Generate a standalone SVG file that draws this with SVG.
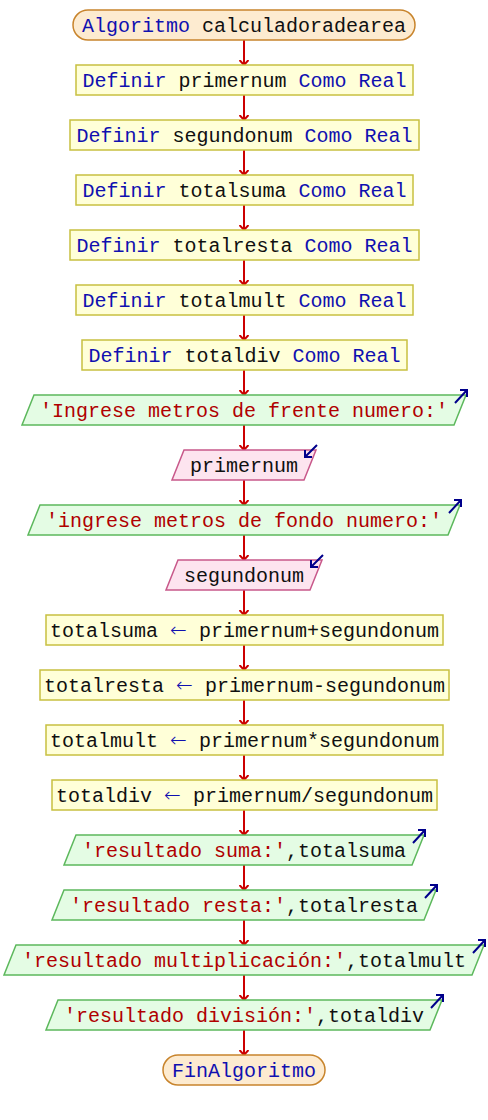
<svg xmlns="http://www.w3.org/2000/svg" width="488" height="1120" viewBox="0 0 488 1120">
<style>
text{font-family:"Liberation Mono","Courier New",monospace;font-size:20px;text-anchor:middle;white-space:pre}
.term{fill:#fdebd0;stroke:#c8842c;stroke-width:1.5}
.proc{fill:#ffffd8;stroke:#c8c040;stroke-width:1.5}
.out{fill:#e4fce4;stroke:#5cb85c;stroke-width:1.5}
.in{fill:#fde4ef;stroke:#c8588a;stroke-width:1.5}
.k{fill:#1010b0}
.a{fill:#1010b0;font-family:"DejaVu Sans",sans-serif;font-weight:300}
.v{fill:#101010}
.s{fill:#b00000}
.ico{fill:none;stroke:#00008b;stroke-width:2}
.con{stroke:#cc0000;stroke-width:2;fill:none;marker-end:url(#ah)}
</style>
<defs>
<marker id="ah" viewBox="0 0 6 10" refX="5.5" refY="5" markerWidth="6" markerHeight="10" orient="auto" markerUnits="userSpaceOnUse">
<path d="M0.5,0.5 L5.5,5 L0.5,9.5" fill="none" stroke="#cc0000" stroke-width="2"/>
</marker>
</defs>
<g id="connectors">
<line class="con" x1="244" y1="40" x2="244" y2="65"/>
<line class="con" x1="244" y1="95" x2="244" y2="120"/>
<line class="con" x1="244" y1="150" x2="244" y2="175"/>
<line class="con" x1="244" y1="205" x2="244" y2="230"/>
<line class="con" x1="244" y1="260" x2="244" y2="285"/>
<line class="con" x1="244" y1="315" x2="244" y2="340"/>
<line class="con" x1="244" y1="370" x2="244" y2="395"/>
<line class="con" x1="244" y1="425" x2="244" y2="450"/>
<line class="con" x1="244" y1="480" x2="244" y2="505"/>
<line class="con" x1="244" y1="535" x2="244" y2="560"/>
<line class="con" x1="244" y1="590" x2="244" y2="615"/>
<line class="con" x1="244" y1="645" x2="244" y2="670"/>
<line class="con" x1="244" y1="700" x2="244" y2="725"/>
<line class="con" x1="244" y1="755" x2="244" y2="780"/>
<line class="con" x1="244" y1="810" x2="244" y2="835"/>
<line class="con" x1="244" y1="865" x2="244" y2="890"/>
<line class="con" x1="244" y1="920" x2="244" y2="945"/>
<line class="con" x1="244" y1="975" x2="244" y2="1000"/>
<line class="con" x1="244" y1="1030" x2="244" y2="1055"/>
</g>
<g id="n0">
<rect class="term" x="73" y="10" width="342" height="30" rx="15"/>
<text x="244" y="32"><tspan class="k">Algoritmo </tspan><tspan class="v">calculadoradearea</tspan></text>
</g>
<g id="n1">
<rect class="proc" x="76" y="65" width="337" height="30"/>
<text x="244.5" y="87"><tspan class="k">Definir </tspan><tspan class="v">primernum</tspan><tspan class="k"> Como Real</tspan></text>
</g>
<g id="n2">
<rect class="proc" x="70" y="120" width="349" height="30"/>
<text x="244.5" y="142"><tspan class="k">Definir </tspan><tspan class="v">segundonum</tspan><tspan class="k"> Como Real</tspan></text>
</g>
<g id="n3">
<rect class="proc" x="76" y="175" width="337" height="30"/>
<text x="244.5" y="197"><tspan class="k">Definir </tspan><tspan class="v">totalsuma</tspan><tspan class="k"> Como Real</tspan></text>
</g>
<g id="n4">
<rect class="proc" x="70" y="230" width="349" height="30"/>
<text x="244.5" y="252"><tspan class="k">Definir </tspan><tspan class="v">totalresta</tspan><tspan class="k"> Como Real</tspan></text>
</g>
<g id="n5">
<rect class="proc" x="76" y="285" width="337" height="30"/>
<text x="244.5" y="307"><tspan class="k">Definir </tspan><tspan class="v">totalmult</tspan><tspan class="k"> Como Real</tspan></text>
</g>
<g id="n6">
<rect class="proc" x="82" y="340" width="325" height="30"/>
<text x="244.5" y="362"><tspan class="k">Definir </tspan><tspan class="v">totaldiv</tspan><tspan class="k"> Como Real</tspan></text>
</g>
<g id="n7">
<polygon class="out" points="34,395 466,395 454,425 22,425"/>
<text x="244" y="417" class="s">'Ingrese metros de frente numero:'</text>
<path class="ico" d="M455,403 L467,390 M460,390 L467,390 L467,397"/>
</g>
<g id="n8">
<polygon class="in" points="184,450 316,450 304,480 172,480"/>
<text x="244" y="472" class="v">primernum</text>
<path class="ico" d="M317,445 L305,457 M312,457 L305,457 L305,450"/>
</g>
<g id="n9">
<polygon class="out" points="40,505 460,505 448,535 28,535"/>
<text x="244" y="527" class="s">'ingrese metros de fondo numero:'</text>
<path class="ico" d="M449,513 L461,500 M454,500 L461,500 L461,507"/>
</g>
<g id="n10">
<polygon class="in" points="178,560 322,560 310,590 166,590"/>
<text x="244" y="582" class="v">segundonum</text>
<path class="ico" d="M323,555 L311,567 M318,567 L311,567 L311,560"/>
</g>
<g id="n11">
<rect class="proc" x="46" y="615" width="397" height="30"/>
<text x="244.5" y="637"><tspan class="v">totalsuma </tspan><tspan class="a">←</tspan><tspan class="v"> primernum+segundonum</tspan></text>
</g>
<g id="n12">
<rect class="proc" x="40" y="670" width="409" height="30"/>
<text x="244.5" y="692"><tspan class="v">totalresta </tspan><tspan class="a">←</tspan><tspan class="v"> primernum-segundonum</tspan></text>
</g>
<g id="n13">
<rect class="proc" x="46" y="725" width="397" height="30"/>
<text x="244.5" y="747"><tspan class="v">totalmult </tspan><tspan class="a">←</tspan><tspan class="v"> primernum*segundonum</tspan></text>
</g>
<g id="n14">
<rect class="proc" x="52" y="780" width="385" height="30"/>
<text x="244.5" y="802"><tspan class="v">totaldiv </tspan><tspan class="a">←</tspan><tspan class="v"> primernum/segundonum</tspan></text>
</g>
<g id="n15">
<polygon class="out" points="76,835 424,835 412,865 64,865"/>
<text x="244" y="857"><tspan class="s">'resultado suma:'</tspan><tspan class="v">,totalsuma</tspan></text>
<path class="ico" d="M413,843 L425,830 M418,830 L425,830 L425,837"/>
</g>
<g id="n16">
<polygon class="out" points="64,890 436,890 424,920 52,920"/>
<text x="244" y="912"><tspan class="s">'resultado resta:'</tspan><tspan class="v">,totalresta</tspan></text>
<path class="ico" d="M425,898 L437,885 M430,885 L437,885 L437,892"/>
</g>
<g id="n17">
<polygon class="out" points="16,945 484,945 472,975 4,975"/>
<text x="244" y="967"><tspan class="s">'resultado multiplicación:'</tspan><tspan class="v">,totalmult</tspan></text>
<path class="ico" d="M473,953 L485,940 M478,940 L485,940 L485,947"/>
</g>
<g id="n18">
<polygon class="out" points="58,1000 442,1000 430,1030 46,1030"/>
<text x="244" y="1022"><tspan class="s">'resultado división:'</tspan><tspan class="v">,totaldiv</tspan></text>
<path class="ico" d="M431,1008 L443,995 M436,995 L443,995 L443,1002"/>
</g>
<g id="n19">
<rect class="term" x="163" y="1055" width="162" height="30" rx="15"/>
<text x="244" y="1077" class="k">FinAlgoritmo</text>
</g>
</svg>
